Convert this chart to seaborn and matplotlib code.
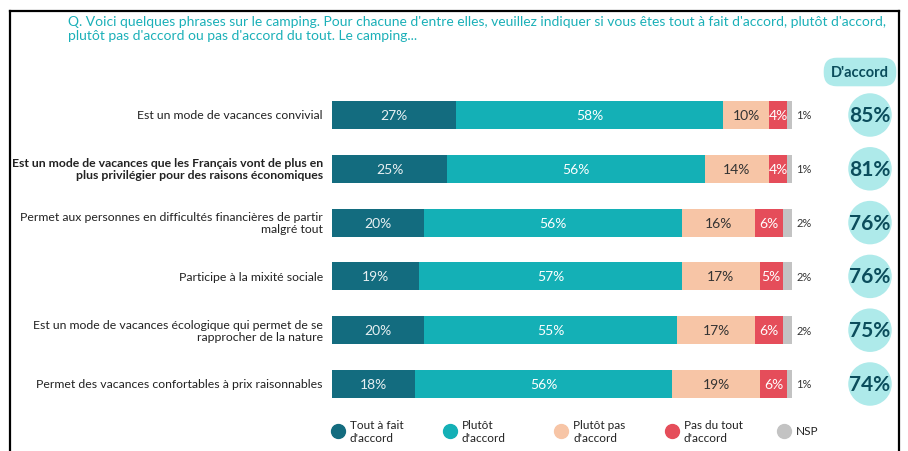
import numpy as np
import pandas as pd
import matplotlib
matplotlib.use('Agg')
import matplotlib.pyplot as plt
from matplotlib.lines import Line2D
import seaborn as sns

# ---------------- data ----------------
labels = [
    "Est un mode de vacances convivial",
    "Est un mode de vacances que les Français vont de plus en\nplus privilégier pour des raisons économiques",
    "Permet aux personnes en difficultés financières de partir\nmalgré tout",
    "Participe à la mixité sociale",
    "Est un mode de vacances écologique qui permet de se\nrapprocher de la nature",
    "Permet des vacances confortables à prix raisonnables",
]
tout_a_fait = [27, 25, 20, 19, 20, 18]
plutot      = [58, 56, 56, 57, 55, 56]
plutot_pas  = [10, 14, 16, 17, 17, 19]
pas_du_tout = [4, 4, 6, 5, 6, 6]
nsp         = [1, 1, 2, 2, 2, 1]
d_accord    = [85, 81, 76, 76, 75, 74]

series_names = ["Tout à fait\nd'accord", "Plutôt\nd'accord", "Plutôt pas\nd'accord",
                "Pas du tout\nd'accord", "NSP"]
colors = ["#136c7f", "#14b0b6", "#f7c5a6", "#e54d5a", "#c3c3c3"]
txt_colors = ["#e8f0f2", "white", "#333333", "white", "#333333"]

question = ("Q. Voici quelques phrases sur le camping. Pour chacune d'entre elles, veuillez indiquer si vous êtes tout à fait d'accord, plutôt d'accord,\n"
            "plutôt pas d'accord ou pas d'accord du tout. Le camping...")

df = pd.DataFrame({"label": labels, "s0": tout_a_fait, "s1": plutot,
                   "s2": plutot_pas, "s3": pas_du_tout, "s4": nsp})
cols = ["s0", "s1", "s2", "s3", "s4"]
cum = df[cols].cumsum(axis=1)
for c in cols:
    df["cum_" + c] = cum[c]

# ---------------- layout ----------------
W, H = 908, 452
PX0, PXPCT = 332, 4.6          # pixel where 0% sits, pixels per %
ROW0, ROWSTEP = 116, 53.8       # pixel centre of first row, row step

plt.rcParams['font.family'] = ['Lato', 'DejaVu Sans']
fig = plt.figure(figsize=(W / 100, H / 100), dpi=100)
ax = fig.add_axes([0, 0, 1, 1])

# stacked bars: draw cumulative totals from the largest down
for i in reversed(range(len(cols))):
    sns.barplot(data=df, x="cum_" + cols[i], y="label", color=colors[i],
                orient="h", width=0.52, ax=ax, saturation=1, edgecolor="none")

ax.set_xlim(-PX0 / PXPCT, (W - PX0) / PXPCT)
ax.set_ylim((H - ROW0) / ROWSTEP, -ROW0 / ROWSTEP)
ax.axis("off")

# segment labels
for r in range(len(df)):
    left = 0
    for i, c in enumerate(cols):
        v = df.loc[r, c]
        if i < 4:
            ax.text(left + v / 2, r, f"{v}%", ha="center", va="center",
                    fontsize=10, color=txt_colors[i])
        else:
            ax.text(left + v + 0.9, r, f"{v}%", ha="left", va="center",
                    fontsize=8, color="#333333")
        left += v

# category labels
for r, lab in enumerate(labels):
    ax.text(-2, r, lab, ha="right", va="center", fontsize=8.8, color="#222222",
            fontweight="bold" if r == 1 else "normal", linespacing=1.15)

# d'accord circles
circle_x = (870 - PX0) / PXPCT
ax.scatter([circle_x] * len(d_accord), range(len(d_accord)), s=980,
           color="#aeeaea", edgecolor="none", zorder=3)
for r, v in enumerate(d_accord):
    ax.text(circle_x, r, f"{v}%", ha="center", va="center", fontsize=15,
            fontweight="bold", color="#0b4d5c", zorder=4)

# header pill
fig.text(860 / W, 1 - 73 / H, "D'accord", ha="center", va="center",
         fontsize=10.5, fontweight="bold", color="#0b4d5c",
         bbox=dict(boxstyle="round,pad=0.5,rounding_size=0.9",
                   fc="#aeeaea", ec="none"))

# question
fig.text(68 / W, 1 - 29 / H, question, ha="left", va="center", fontsize=10,
         color="#1bb0b8", linespacing=1.25)

# legend
leg_x = [338, 450, 561, 672, 784]
for x, name, col in zip(leg_x, series_names, colors):
    fig.add_artist(Line2D([x / W], [1 - 432 / H], marker="o", markersize=10,
                          color=col, linestyle="none"))
    fig.text((x + 12) / W, 1 - 432 / H, name, ha="left", va="center",
             fontsize=8.5, color="#222222", linespacing=1.3)

# frame
fr = dict(color="black", lw=1.6)
fig.add_artist(Line2D([10 / W, 10 / W], [0, 1 - 12 / H], **fr))
fig.add_artist(Line2D([10 / W, 899 / W], [1 - 12 / H, 1 - 12 / H], **fr))
fig.add_artist(Line2D([899 / W, 899 / W], [0, 1 - 12 / H], **fr))

fig.savefig("out.png", dpi=100)
